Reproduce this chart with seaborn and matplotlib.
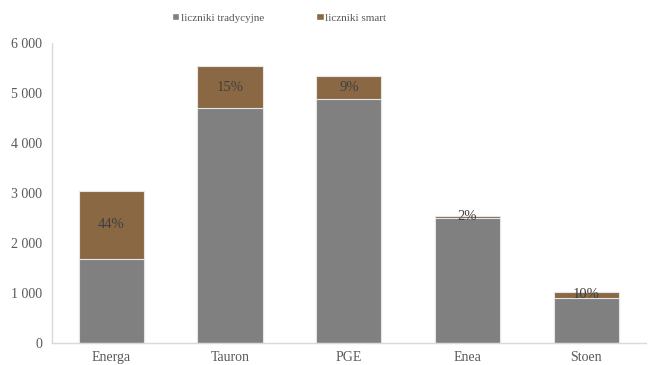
import matplotlib
matplotlib.use("Agg")
import matplotlib.pyplot as plt
import seaborn as sns
import pandas as pd
from matplotlib.patches import Patch
from matplotlib.ticker import FuncFormatter

categories = ["Energa", "Tauron", "PGE", "Enea", "Stoen"]
traditional = [1690, 4700, 4880, 2500, 910]
smart = [1350, 840, 460, 50, 105]
pct_labels = ["44%", "15%", "9%", "2%", "10%"]

sns.set_theme(style="white")
plt.rcParams["font.family"] = ["Liberation Serif", "DejaVu Serif"]

c_trad = "#808080"
c_smart = "#8B6844"
txt = "#595959"

totals = [t + s for t, s in zip(traditional, smart)]
df = pd.DataFrame({"cat": categories, "trad": traditional, "total": totals})

fig = plt.figure(figsize=(6.49, 3.65), dpi=100)
ax = fig.add_axes([0.08, 0.06, 0.915, 0.822])

sns.barplot(data=df, x="cat", y="total", color=c_smart, width=0.55,
            edgecolor="#e6e6e6", linewidth=0.8, saturation=1, ax=ax)
sns.barplot(data=df, x="cat", y="trad", color=c_trad, width=0.55,
            edgecolor="#e6e6e6", linewidth=0.8, saturation=1, ax=ax)

for i, (t, s, lab) in enumerate(zip(traditional, smart, pct_labels)):
    ax.text(i, t + s / 2, lab, ha="center", va="center", fontsize=10.5, color="#404040")

ax.set_ylim(0, 6000)
ax.set_xlim(-0.5, 4.5)
ax.set_yticks(range(0, 6001, 1000))
ax.yaxis.set_major_formatter(FuncFormatter(lambda v, p: f"{int(v):,}".replace(",", " ")))
ax.set_xlabel("")
ax.set_ylabel("")
ax.tick_params(axis="both", length=0, labelsize=10, colors=txt)
ax.tick_params(axis="y", pad=7)
ax.tick_params(axis="x", pad=6)
for sp in ["top", "right"]:
    ax.spines[sp].set_visible(False)
for sp in ["left", "bottom"]:
    ax.spines[sp].set_color("#d9d9d9")
    ax.spines[sp].set_linewidth(1)

handles = [Patch(facecolor=c_trad, label="liczniki tradycyjne"),
           Patch(facecolor=c_smart, label="liczniki smart")]
fig.legend(handles=handles, loc="center", bbox_to_anchor=(0.43, 0.951), ncol=2,
           frameon=False, fontsize=8, handlelength=0.65, handleheight=0.65,
           handletextpad=0.15, columnspacing=4.7, labelcolor=txt)

fig.savefig("out.png", dpi=100)
